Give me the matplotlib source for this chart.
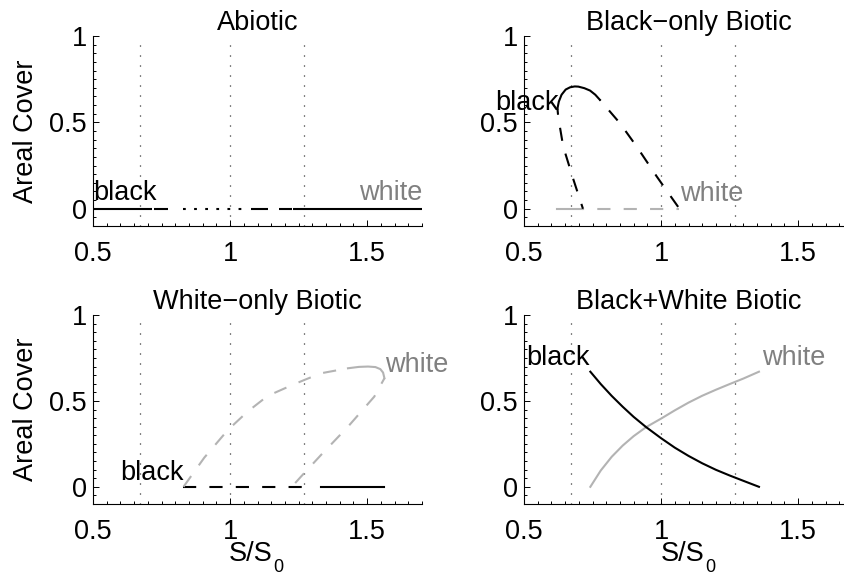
import matplotlib
matplotlib.use("Agg")
import matplotlib.pyplot as plt
from matplotlib.ticker import MultipleLocator

plt.rcParams['font.family'] = ['Liberation Sans', 'DejaVu Sans']
plt.rcParams['lines.scale_dashes'] = False

# ---------------- data ----------------
titles = ["Abiotic", "Black\u2212only Biotic", "White\u2212only Biotic", "Black+White Biotic"]
xticks = [0.5, 1.0, 1.5]
xticklabels = ["0.5", "1", "1.5"]
yticks = [0.0, 0.5, 1.0]
yticklabels = ["0", "0.5", "1"]
ref_lines = [0.67, 1.0, 1.27]

# Abiotic: zero-cover line pieces (start, end)
abiotic_solid = [(0.5, 0.715), (0.724, 0.772), (1.077, 1.137), (1.18, 1.225), (1.228, 1.7)]
abiotic_dotted = [(0.827, 1.065)]

# Black-only biotic
bo_black_left_x = [0.622, 0.625, 0.643, 0.68, 0.715]
bo_black_left_y = [0.58, 0.53, 0.36, 0.17, 0.0]
bo_black_top_x = [0.622, 0.627, 0.637, 0.652, 0.668, 0.685, 0.698, 0.72, 0.741, 0.76, 0.777]
bo_black_top_y = [0.58, 0.62, 0.66, 0.69, 0.703, 0.708, 0.707, 0.698, 0.684, 0.66, 0.63]
bo_black_right_x = [0.777, 0.85, 0.911, 0.984, 1.027, 1.067]
bo_black_right_y = [0.63, 0.495, 0.36, 0.187, 0.09, 0.0]
bo_white_solid = (0.622, 0.71)
bo_white_dashed = (0.71, 1.067)

# White-only biotic
wo_white_up_x = [0.83, 0.906, 0.992, 1.064, 1.137, 1.223, 1.271, 1.332, 1.43]
wo_white_up_y = [0.0, 0.17, 0.331, 0.438, 0.529, 0.59, 0.622, 0.661, 0.69]
wo_white_top_x = [1.43, 1.47, 1.503, 1.53, 1.548, 1.558, 1.563]
wo_white_top_y = [0.69, 0.698, 0.70, 0.697, 0.685, 0.665, 0.632]
wo_white_low_x = [1.563, 1.526, 1.43, 1.332, 1.259, 1.225]
wo_white_low_y = [0.632, 0.525, 0.35, 0.186, 0.06, 0.0]
wo_black_dashed = (0.83, 1.27)
wo_black_solid = (1.33, 1.563)

# Black+White biotic
bw_x = [0.742, 0.78, 0.82, 0.86, 0.90, 0.945, 1.0, 1.05, 1.10, 1.15, 1.20, 1.25, 1.30, 1.357]
bw_black_y = [0.67, 0.598, 0.529, 0.466, 0.407, 0.348, 0.283, 0.228, 0.180, 0.137, 0.099, 0.066, 0.035, 0.0]
bw_white_y = [0.0, 0.095, 0.175, 0.24, 0.295, 0.347, 0.397, 0.445, 0.49, 0.53, 0.565, 0.598, 0.63, 0.67]

# ---------------- figure ----------------
W, H = 844, 577
fig = plt.figure(figsize=(W / 100, H / 100), dpi=100)
FS = 19.5
GRAY_LINE = (0.7, 0.7, 0.7)
GRAY_TEXT = (0.5, 0.5, 0.5)
DASH = (0, (9.5, 9.5))
LW = 1.5

def make_ax(left_px, top_px, bottom_px):
    width_px = 329
    ax = fig.add_axes([left_px / W, (H - bottom_px) / H, width_px / W, (bottom_px - top_px) / H])
    ax.set_xlim(0.5, 1.7)
    ax.set_ylim(-0.1, 1.0)
    for s in ['top', 'right']:
        ax.spines[s].set_visible(False)
    for s in ['left', 'bottom']:
        ax.spines[s].set_linewidth(0.8)
    ax.set_xticks(xticks)
    ax.set_xticklabels(xticklabels)
    ax.set_yticks(yticks)
    ax.set_yticklabels(yticklabels)
    ax.xaxis.set_minor_locator(MultipleLocator(0.05))
    ax.yaxis.set_minor_locator(MultipleLocator(0.05))
    ax.tick_params(which='both', direction='in', width=0.7, labelsize=FS)
    ax.tick_params(which='major', length=4)
    ax.tick_params(which='minor', length=2)
    ax.tick_params(axis='x', pad=11)
    ax.tick_params(axis='y', pad=4.5)
    for xv in ref_lines:
        ax.axvline(xv, color='black', lw=0.9, linestyle=(0, (0.7, 6.5)), zorder=1)
    return ax

ax1 = make_ax(93, 36, 226)
ax2 = make_ax(524, 36, 226)
ax3 = make_ax(93, 315, 504)
ax4 = make_ax(524, 315, 504)
axes = [ax1, ax2, ax3, ax4]
for ax, t in zip(axes, titles):
    ax.set_title(t, fontsize=FS, pad=3)
for ax in [ax1, ax3]:
    ax.set_ylabel("Areal Cover", fontsize=FS)
    ax.yaxis.set_label_coords(-0.165, 0.5)

# x-axis label S/S0 with a low subscript, placed under each bottom panel
for xc in [257, 689]:
    fig.text((xc + 16) / W, (H - 561) / H, "S/S", fontsize=FS, ha='right', va='baseline')
    fig.text((xc + 16) / W, (H - 572) / H, "0", fontsize=13, ha='left', va='baseline')

# Abiotic
for a, b in abiotic_solid:
    ax1.plot([a, b], [0, 0], color='black', lw=LW, solid_capstyle='butt')
for a, b in abiotic_dotted:
    ax1.plot([a, b], [0, 0], color='black', lw=LW, linestyle=(0, (2, 6)))
ax1.text(0.5, 0.05, "black", fontsize=FS, ha='left', va='baseline', color='black')
ax1.text(1.7, 0.05, "white", fontsize=FS, ha='right', va='baseline', color=GRAY_TEXT)

# Black-only
ax2.plot([bo_white_solid[0], bo_white_solid[1]], [0, 0], color=GRAY_LINE, lw=LW)
ax2.plot([bo_white_dashed[0], bo_white_dashed[1]], [0, 0], color=GRAY_LINE, lw=LW, linestyle=(8, (9.5, 9.5)))
ax2.plot(bo_black_left_x, bo_black_left_y, color='black', lw=LW, linestyle=(5, (9.5, 9.5)))
ax2.plot(bo_black_top_x, bo_black_top_y, color='black', lw=LW)
ax2.plot(bo_black_right_x, bo_black_right_y, color='black', lw=LW, linestyle=(9, (9.5, 9.5)))
ax2.text(0.627, 0.57, "black", fontsize=FS, ha='right', va='baseline', color='black')
ax2.text(1.07, 0.042, "white", fontsize=FS, ha='left', va='baseline', color=GRAY_TEXT)

# White-only
ax3.plot([wo_black_dashed[0], wo_black_dashed[1]], [0, 0], color='black', lw=LW, linestyle=DASH)
ax3.plot([wo_black_solid[0], wo_black_solid[1]], [0, 0], color='black', lw=LW)
ax3.plot(wo_white_up_x, wo_white_up_y, color=GRAY_LINE, lw=LW, linestyle=DASH)
ax3.plot(wo_white_top_x, wo_white_top_y, color=GRAY_LINE, lw=LW)
ax3.plot(wo_white_low_x, wo_white_low_y, color=GRAY_LINE, lw=LW, linestyle=(5, (9.5, 9.5)))
ax3.text(0.832, 0.037, "black", fontsize=FS, ha='right', va='baseline', color='black')
ax3.text(1.564, 0.67, "white", fontsize=FS, ha='left', va='baseline', color=GRAY_TEXT)

# Black+White
ax4.plot(bw_x, bw_white_y, color=GRAY_LINE, lw=LW)
ax4.plot(bw_x, bw_black_y, color='black', lw=LW)
ax4.text(0.741, 0.71, "black", fontsize=FS, ha='right', va='baseline', color='black')
ax4.text(1.367, 0.71, "white", fontsize=FS, ha='left', va='baseline', color=GRAY_TEXT)

fig.savefig("out.png", dpi=100)
